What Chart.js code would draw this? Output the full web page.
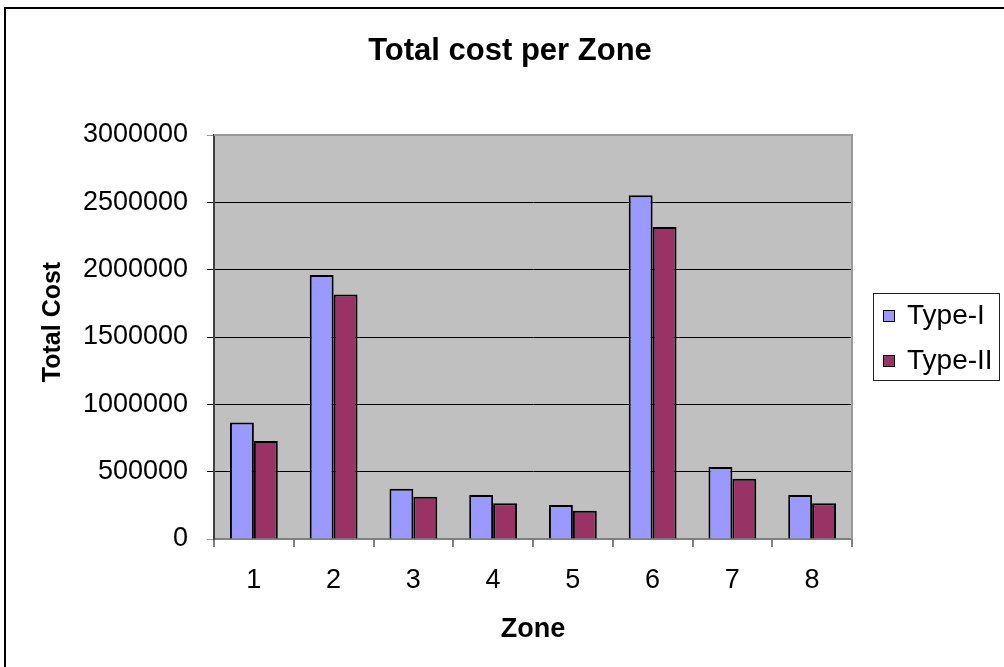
<!DOCTYPE html>
<html>
<head>
<meta charset="utf-8">
<title>Total cost per Zone</title>
<script src="https://cdn.jsdelivr.net/npm/chart.js@4.4.0/dist/chart.umd.min.js"></script>
<style>
  html, body { margin: 0; padding: 0; background: #ffffff; }
  canvas { display: block; }
</style>
</head>
<body>
<canvas id="costChart" width="1004" height="667"></canvas>
<script>
// Zones and total cost of each network type
const zones = ['1', '2', '3', '4', '5', '6', '7', '8'];
const typeI = [865000, 1960000, 374000, 327000, 252000, 2552000, 535000, 327000];
const typeII = [728000, 1815000, 314000, 265000, 210000, 2317000, 448000, 265000];
const seriesNames = ['Type-I', 'Type-II'];
const seriesColors = ['#9999FF', '#993366'];

const chartTitle = 'Total cost per Zone';
const yAxisTitle = 'Total Cost';
const xAxisTitle = 'Zone';
const yMax = 3000000;
const yStep = 500000;

const FONT = "'Liberation Sans', Arial, Helvetica, sans-serif";

// Grey plot background, plot frame and the outer chart frame
const framePlugin = {
  id: 'frame',
  beforeDraw(chart) {
    const { ctx, chartArea: a } = chart;
    ctx.save();
    ctx.fillStyle = '#ffffff';
    ctx.fillRect(0, 0, chart.width, chart.height);
    ctx.fillStyle = '#C0C0C0';
    ctx.fillRect(a.left, a.top, a.right - a.left, a.bottom - a.top);
    ctx.strokeStyle = '#000000';
    ctx.lineWidth = 2;
    ctx.strokeRect(5, 8, chart.width + 20, chart.height + 20);
    ctx.restore();
  },
  beforeDatasetsDraw(chart) {
    const { ctx, chartArea: a } = chart;
    ctx.save();
    ctx.strokeStyle = '#9a9a9a';
    ctx.lineWidth = 2;
    ctx.beginPath();
    ctx.moveTo(a.left, a.top);
    ctx.lineTo(a.right, a.top);
    ctx.lineTo(a.right, a.bottom);
    ctx.stroke();
    ctx.restore();
  }
};

// Chart title, vertical axis title and the boxed legend
const textPlugin = {
  id: 'texts',
  afterDraw(chart) {
    const { ctx } = chart;
    ctx.save();
    ctx.fillStyle = '#000000';
    ctx.textAlign = 'center';
    ctx.textBaseline = 'middle';
    ctx.font = 'bold 31px ' + FONT;
    ctx.fillText(chartTitle, 510, 51);

    ctx.save();
    ctx.translate(53, 322);
    ctx.rotate(-Math.PI / 2);
    ctx.font = 'bold 25px ' + FONT;
    ctx.fillText(yAxisTitle, 0, 0);
    ctx.restore();

    // legend
    ctx.strokeStyle = '#222222';
    ctx.lineWidth = 1;
    ctx.strokeRect(873.5, 293.5, 126, 87);
    ctx.font = '28px ' + FONT;
    ctx.textAlign = 'left';
    chart.data.datasets.forEach((ds, i) => {
      const cy = 316 + i * 45;
      ctx.fillStyle = ds.backgroundColor;
      ctx.fillRect(883, cy - 6, 11, 11);
      ctx.strokeStyle = '#000000';
      ctx.strokeRect(883.5, cy - 5.5, 11, 11);
      ctx.fillStyle = '#000000';
      ctx.fillText(ds.label, 907, cy);
    });
    ctx.restore();
  }
};

new Chart(document.getElementById('costChart'), {
  type: 'bar',
  data: {
    labels: zones,
    datasets: [
      { label: seriesNames[0], data: typeI, backgroundColor: seriesColors[0] },
      { label: seriesNames[1], data: typeII, backgroundColor: seriesColors[1] }
    ]
  },
  options: {
    responsive: false,
    animation: false,
    devicePixelRatio: 1,
    layout: { padding: { top: 135, right: 152, bottom: 0, left: 0 } },
    datasets: {
      bar: {
        borderColor: '#000000',
        borderWidth: 2,
        categoryPercentage: 0.6,
        barPercentage: 1.0
      }
    },
    plugins: {
      legend: { display: false },
      title: { display: false },
      tooltip: { enabled: false }
    },
    scales: {
      x: {
        afterFit(scale) { scale.height = 128; },
        grid: {
          drawOnChartArea: false,
          drawTicks: true,
          tickLength: 8,
          color: '#808080',
          lineWidth: 2
        },
        border: { display: true, color: '#808080', width: 2 },
        ticks: {
          color: '#000000',
          padding: 17,
          font: { family: FONT, size: 27 }
        },
        title: {
          display: true,
          text: xAxisTitle,
          color: '#000000',
          font: { family: FONT, size: 27, weight: 'bold' },
          padding: { top: 4, bottom: 21 }
        }
      },
      y: {
        min: 0,
        max: yMax,
        afterFit(scale) { scale.width = 214; },
        grid: {
          drawTicks: true,
          tickLength: 7,
          lineWidth: 1,
          color: (c) => (c.tick && (c.tick.value === yMax || c.tick.value === 0)) ? '#9a9a9a' : '#000000'
        },
        border: { display: true, color: '#404040', width: 2 },
        ticks: {
          stepSize: yStep,
          color: '#000000',
          padding: 19,
          font: { family: FONT, size: 27 },
          callback: (v) => String(v)
        }
      }
    }
  },
  plugins: [framePlugin, textPlugin]
});
</script>
</body>
</html>
